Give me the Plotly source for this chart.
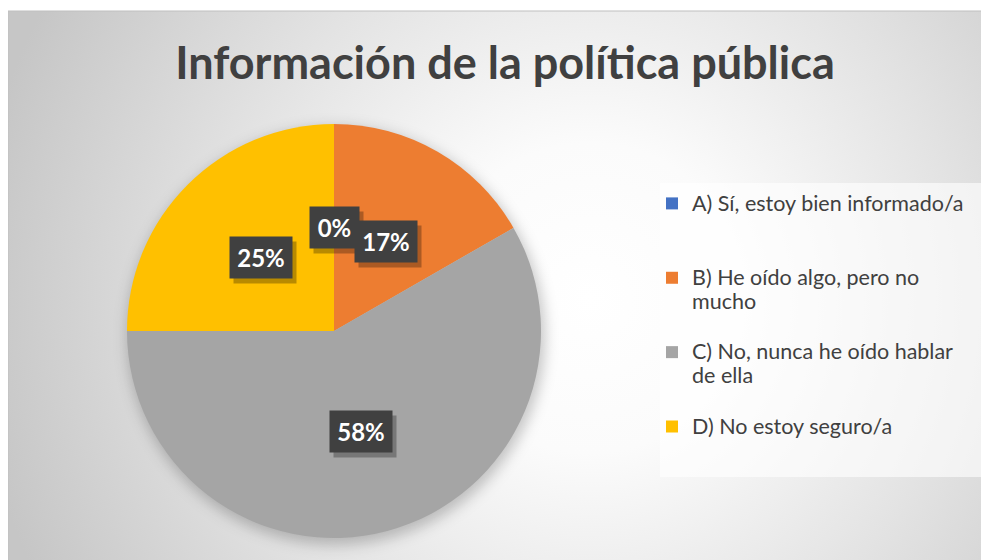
import math
import base64
import plotly.graph_objects as go

# ---- data ----
categories = [
    "A) Sí, estoy bien informado/a",
    "B) He oído algo, pero no mucho",
    "C) No, nunca he oído hablar de ella",
    "D) No estoy seguro/a",
]
legend_lines = [
    ["A) Sí, estoy bien informado/a", " ", " "],
    ["B) He oído algo, pero no", "mucho", " "],
    ["C) No, nunca he oído hablar", "de ella", " "],
    ["D) No estoy seguro/a", " ", " "],
]
values = [0, 16.7, 58.3, 25.0]
colors = ["#4472C4", "#ED7D31", "#A5A5A5", "#FFC000"]
title_text = "Información de la política pública"

# ---- layout geometry (figure pixels) ----
W, H = 989, 560
cx, cy, R = 326, 323, 207
FONT = "Lato"
TXT = "#404040"

legend_text = ["<br>".join(f"<span style='font-size:21.5px'>{s}</span>" for s in ls)
               for ls in legend_lines]

# ---- background: radial gradient + pie shadow + legend panel ----
svg = f'''<svg xmlns="http://www.w3.org/2000/svg" width="{W}" height="{H}" viewBox="0 0 {W} {H}">
<defs>
<radialGradient id="g" gradientUnits="userSpaceOnUse" cx="582" cy="290" r="620">
<stop offset="0" stop-color="#ffffff"/>
<stop offset="0.25" stop-color="#fbfbfb"/>
<stop offset="0.6" stop-color="#e3e3e3"/>
<stop offset="1" stop-color="#c6c6c6"/>
</radialGradient>
<filter id="b" x="-20%" y="-20%" width="140%" height="140%"><feGaussianBlur stdDeviation="7"/></filter>
</defs>
<rect x="0" y="0" width="{W}" height="{H}" fill="#ffffff"/>
<rect x="0" y="3" width="{W}" height="{H-3}" fill="url(#g)" stroke="#c0c0c0" stroke-width="1"/>
<circle cx="{cx+2}" cy="{cy+5}" r="{R+2}" fill="rgba(0,0,0,0.22)" filter="url(#b)"/>
<rect x="652" y="175" width="327" height="294" fill="rgba(255,255,255,0.62)"/>
</svg>'''
svg_uri = "data:image/svg+xml;base64," + base64.b64encode(svg.encode("utf-8")).decode()

fig = go.Figure()
fig.add_trace(go.Pie(
    labels=legend_text,
    values=values,
    marker=dict(colors=colors, line=dict(width=0)),
    sort=False,
    direction="clockwise",
    rotation=0,
    textinfo="none",
    hovertext=categories,
    hoverinfo="text+percent",
    domain=dict(x=[(cx - R) / W, (cx + R) / W], y=[(H - cy - R) / H, (H - cy + R) / H]),
    showlegend=True,
))

# ---- data labels: dark boxes at half radius along each slice's mid-angle ----
total = sum(values)
annotations = []
cum = 0.0
for v in values:
    mid = (cum + v / 2) / total
    cum += v
    th = 2 * math.pi * mid
    xp = cx + 0.5 * R * math.sin(th)
    yp = cy - 0.5 * R * math.cos(th)
    txt = f"{round(100 * v / total)}%"
    bw = 23 + 13 * len(txt)
    common = dict(x=xp / W, y=1 - yp / H, xref="paper", yref="paper", showarrow=False,
                  width=bw, height=41, borderpad=0, xanchor="center", yanchor="middle")
    annotations.append(dict(text=" ", bgcolor="rgba(0,0,0,0.28)",
                            font=dict(family=FONT, size=24, color="rgba(0,0,0,0)"),
                            xshift=4, yshift=-5, **common))
    annotations.append(dict(text=f"<b>{txt}</b>", bgcolor="#404040",
                            font=dict(family=FONT, size=24, color="#ffffff"), **common))

fig.update_layout(
    width=W, height=H,
    margin=dict(l=0, r=0, t=0, b=0),
    paper_bgcolor="#ffffff",
    plot_bgcolor="rgba(0,0,0,0)",
    font=dict(family=FONT, color=TXT),
    title=dict(text=f"<b>{title_text}</b>", x=497 / W, xanchor="center",
               y=1 - 55 / H, yanchor="middle",
               font=dict(family=FONT, size=45, color=TXT)),
    legend=dict(x=644 / W, y=1 - 177 / H, xanchor="left", yanchor="top",
                bgcolor="rgba(0,0,0,0)", font=dict(family=FONT, size=18.3, color=TXT),
                valign="top", traceorder="normal"),
    images=[dict(source=svg_uri, xref="paper", yref="paper", x=0, y=1, sizex=1, sizey=1,
                 xanchor="left", yanchor="top", sizing="stretch", layer="below")],
    annotations=annotations,
)

fig.write_html("out.html")
